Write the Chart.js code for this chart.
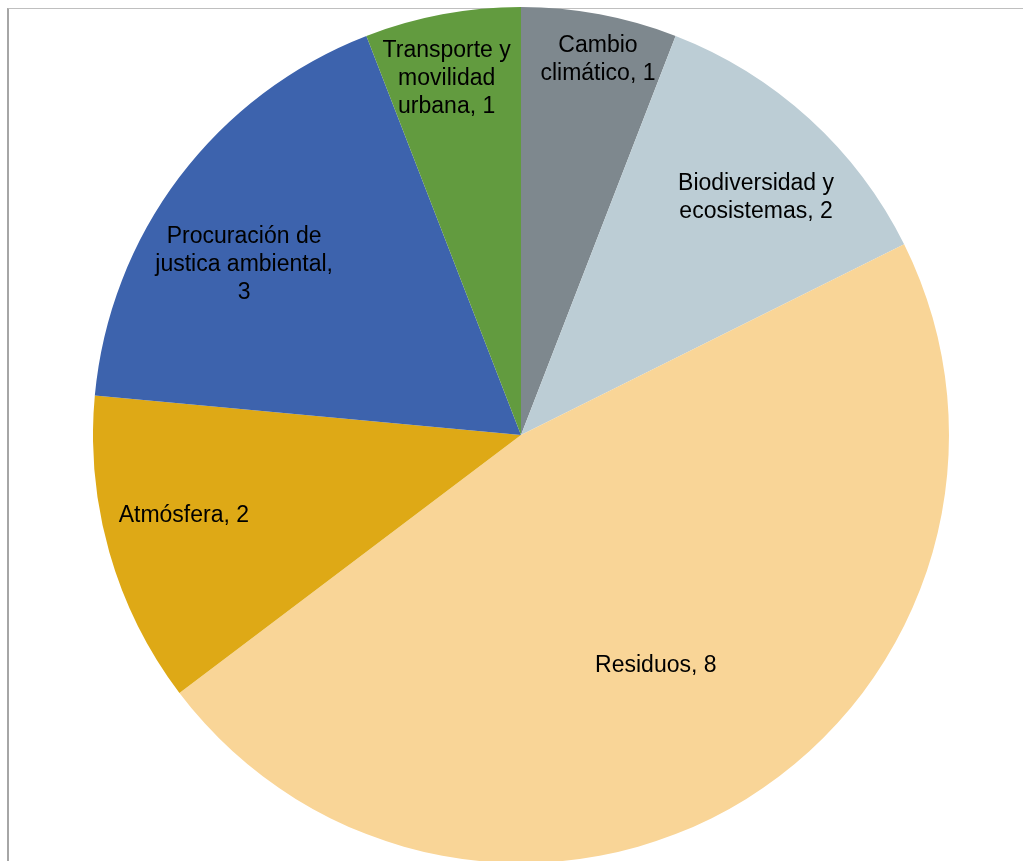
<!DOCTYPE html>
<html>
<head>
<meta charset="utf-8">
<script src="https://cdn.jsdelivr.net/npm/chart.js@4/dist/chart.umd.min.js"></script>
<style>
  html, body { margin: 0; padding: 0; background: #fff; overflow: hidden; }
  body { width: 1023px; height: 861px; position: relative; }
  #frame { position: absolute; left: 7px; top: 8px; width: 1100px; height: 900px;
           border-left: 2px solid #a6a6a6; border-top: 1px solid #bfbfbf; box-sizing: border-box; }
  #wrap { position: absolute; left: 93px; top: 7px; width: 856px; height: 856px; }
</style>
</head>
<body>
<div id="frame"></div>
<div id="wrap"><canvas id="pie"></canvas></div>
<script>
// Temas y número de casos
const labels = [
  ['Cambio', 'climático, 1'],
  ['Biodiversidad y', 'ecosistemas, 2'],
  ['Residuos, 8'],
  ['Atmósfera, 2'],
  ['Procuración de', 'justica ambiental,', '3'],
  ['Transporte y', 'movilidad', 'urbana, 1']
];
const values = [1, 2, 8, 2, 3, 1];
const colors = ['#7e888e', '#bccdd5', '#f9d597', '#dea916', '#3d63ad', '#629b3f'];

// how far out along the radius each label sits
const labelRadius = [0.895, 0.78, 0.625, 0.81, 0.76, 0.85];
const labelShift = [1, 2.4, 1.5, 2.4, -5.4, -1.2];

const sliceLabels = {
  id: 'sliceLabels',
  afterDatasetsDraw(chart) {
    const ctx = chart.ctx;
    const meta = chart.getDatasetMeta(0);
    ctx.save();
    ctx.font = '23px "Liberation Sans", Arial, sans-serif';
    ctx.fillStyle = '#000';
    ctx.textAlign = 'center';
    ctx.textBaseline = 'middle';
    meta.data.forEach((arc, i) => {
      const p = arc.getProps(['x', 'y', 'startAngle', 'endAngle', 'outerRadius'], true);
      const a = (p.startAngle + p.endAngle) / 2 + labelShift[i] * Math.PI / 180;
      const r = p.outerRadius * labelRadius[i];
      const cx = p.x + Math.cos(a) * r;
      const cy = p.y + Math.sin(a) * r;
      const lines = labels[i];
      const lh = 28;
      lines.forEach((t, k) => {
        ctx.fillText(t, cx, cy + (k - (lines.length - 1) / 2) * lh);
      });
    });
    ctx.restore();
  }
};

new Chart(document.getElementById('pie'), {
  type: 'pie',
  data: {
    labels: labels.map(l => l.join(' ')),
    datasets: [{
      data: values,
      backgroundColor: colors,
      borderWidth: 0
    }]
  },
  options: {
    responsive: true,
    maintainAspectRatio: false,
    animation: false,
    layout: { padding: 0 },
    plugins: {
      legend: { display: false },
      tooltip: { enabled: false }
    }
  },
  plugins: [sliceLabels]
});
</script>
</body>
</html>
